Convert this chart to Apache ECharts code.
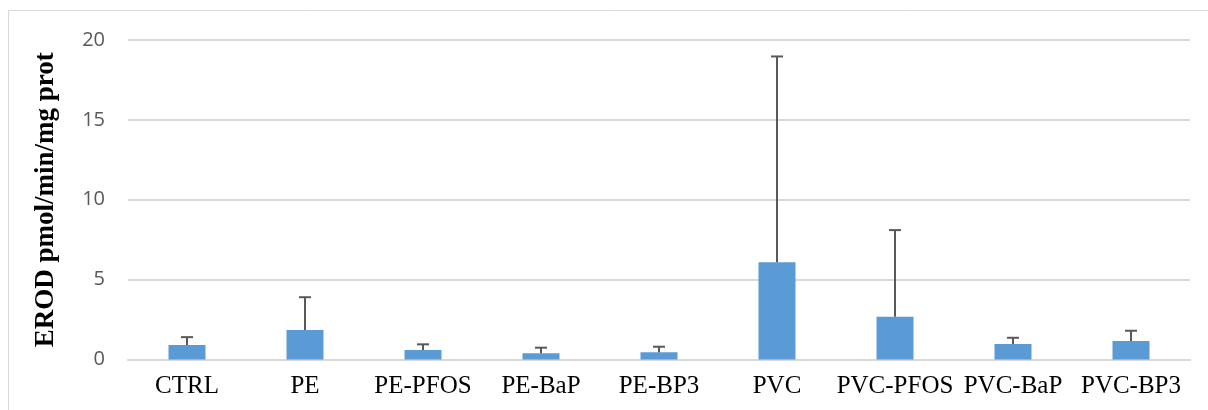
<!DOCTYPE html>
<html lang="en">
<head>
    <meta charset="UTF-8">
    <title>EROD</title>
    <script src="https://cdn.jsdelivr.net/npm/echarts@6/dist/echarts.min.js"></script>
    <style>
        html, body { margin: 0; padding: 0; background: #fff; }
        #chart { width: 1208px; height: 410px; }
    </style>
</head>
<body>
<div id="chart"></div>
<script>
    // groups and measured values
    var categories = ['CTRL', 'PE', 'PE-PFOS', 'PE-BaP', 'PE-BP3', 'PVC', 'PVC-PFOS', 'PVC-BaP', 'PVC-BP3'];
    var means = [0.9, 1.84, 0.6, 0.39, 0.45, 6.08, 2.68, 0.97, 1.16];
    var errTop = [1.4, 3.9, 0.95, 0.74, 0.8, 18.97, 8.1, 1.36, 1.8];
    var yTicks = [0, 5, 10, 15, 20];

    var errData = categories.map(function (c, i) { return [i, means[i], errTop[i]]; });

    var chart = echarts.init(document.getElementById('chart'));
    var option = {
        animation: false,
        graphic: [{
            type: 'rect',
            shape: { x: 8.5, y: 10.5, width: 1220, height: 420 },
            style: { fill: 'none', stroke: '#d9d9d9', lineWidth: 1 },
            silent: true
        }],
        grid: { left: 128, right: 18, top: 40, bottom: 50.5 },
        xAxis: {
            type: 'category',
            data: categories,
            axisLine: { show: true, lineStyle: { color: '#d9d9d9', width: 2 } },
            axisTick: { show: false },
            axisLabel: {
                interval: 0, margin: 14, color: '#000',
                fontFamily: 'Liberation Serif', fontSize: 25
            }
        },
        yAxis: {
            type: 'value',
            min: yTicks[0], max: yTicks[yTicks.length - 1], interval: 5,
            name: 'EROD pmol/min/mg prot',
            nameLocation: 'middle',
            nameGap: 68,
            nameTextStyle: { fontFamily: 'Liberation Serif', fontWeight: 'bold', fontSize: 27, color: '#000' },
            axisLine: { show: false },
            axisTick: { show: false },
            axisLabel: { color: '#595959', fontFamily: 'Open Sans', fontSize: 20, margin: 23 },
            splitLine: { lineStyle: { color: '#d9d9d9', width: 2 } }
        },
        series: [{
            type: 'bar',
            data: means,
            barWidth: 37,
            itemStyle: { color: '#5b9bd5' }
        }, {
            type: 'custom',
            data: errData,
            z: 3,
            renderItem: function (params, api) {
                var x = api.value(0);
                var lo = api.coord([x, api.value(1)]);
                var hi = api.coord([x, api.value(2)]);
                var cap = 6;
                var st = { stroke: '#595959', lineWidth: 2 };
                return {
                    type: 'group',
                    children: [
                        { type: 'line', shape: { x1: lo[0], y1: lo[1], x2: hi[0], y2: hi[1] }, style: st },
                        { type: 'line', shape: { x1: hi[0] - cap, y1: hi[1], x2: hi[0] + cap, y2: hi[1] }, style: st }
                    ]
                };
            }
        }]
    };
    chart.setOption(option);
</script>
</body>
</html>
